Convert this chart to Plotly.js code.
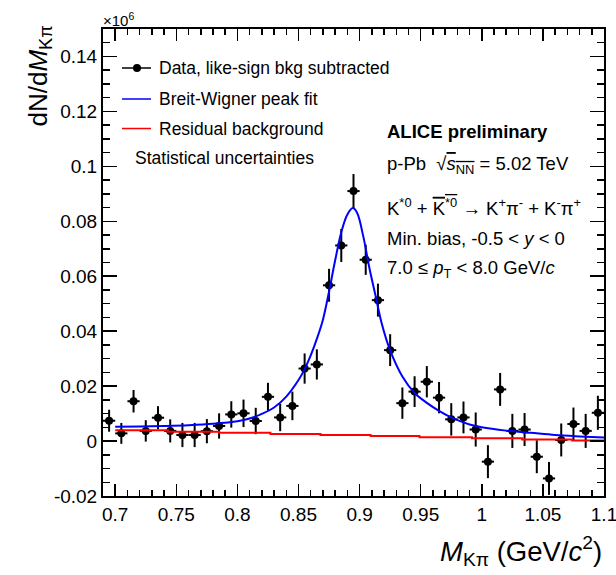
<!DOCTYPE html>
<html>
<head>
<meta charset="utf-8">
<script src="https://cdn.plot.ly/plotly-3.0.1.min.js"></script>
<style>html,body{margin:0;padding:0;background:#fff;}#chart{width:616px;height:575px;}</style>
</head>
<body>
<div id="chart"></div>
<script>
// ---- data ----
const massBins = [0.695,0.705,0.715,0.725,0.735,0.745,0.755,0.765,0.775,0.785,
                  0.795,0.805,0.815,0.825,0.835,0.845,0.855,0.865,0.875,0.885,
                  0.895,0.905,0.915,0.925,0.935,0.945,0.955,0.965,0.975,0.985,
                  0.995,1.005,1.015,1.025,1.035,1.045,1.055,1.065,1.075,1.085,1.095];
const counts = [0.0074,0.0028,0.0145,0.0037,0.0085,0.0037,0.0022,0.0022,0.0036,0.0055,
                0.0097,0.0101,0.0073,0.0161,0.0086,0.0128,0.0264,0.0279,0.0567,0.0712,
                0.0910,0.0660,0.0513,0.0331,0.0138,0.0180,0.0216,0.0158,0.0079,0.0086,
                0.0042,-0.0075,0.0188,0.0037,0.0042,-0.0057,-0.0136,0.0004,0.0062,0.0037,0.0103];
const statErr = [0.0040,0.0038,0.0041,0.0039,0.0042,0.0042,0.0044,0.0044,0.0044,0.0046,
                 0.0048,0.0050,0.0048,0.0051,0.0050,0.0052,0.0055,0.0055,0.0060,0.0060,
                 0.0062,0.0055,0.0060,0.0058,0.0057,0.0056,0.0057,0.0057,0.0059,0.0058,
                 0.0062,0.0060,0.0060,0.0062,0.0060,0.0060,0.0060,0.0060,0.0060,0.0062,0.0062];
const binHalfWidth = 0.005;

const fitMass = [0.700,0.720,0.740,0.760,0.780,0.800,0.810,0.820,0.830,0.840,
                 0.850,0.855,0.860,0.865,0.870,0.875,0.880,0.885,0.890,0.8945,
                 0.898,0.903,0.908,0.913,0.918,0.925,0.935,0.945,0.955,0.965,
                 0.975,0.990,1.000,1.020,1.040,1.060,1.080,1.100];
const fitValues = [0.0052,0.0053,0.0055,0.0058,0.0063,0.0072,0.0082,0.0099,0.0122,0.0162,
                   0.0222,0.0262,0.0312,0.0372,0.0442,0.0545,0.0658,0.0760,0.0825,0.0848,
                   0.0830,0.0745,0.0630,0.0530,0.0430,0.0330,0.0235,0.0175,0.0139,0.0110,
                   0.0086,0.0060,0.0050,0.0038,0.0030,0.0022,0.0017,0.0013];

const bkgMass = [0.700,0.743,0.785,0.827,0.868,0.909,0.949,0.992,1.033,1.074,1.100];
const bkgValues = [0.0039,0.0034,0.0030,0.0026,0.0022,0.0018,0.0014,0.0010,0.0006,0.0002,0.0002];

const xTickVals = [0.7,0.75,0.8,0.85,0.9,0.95,1.0,1.05,1.1];
const xTickText = ["0.7","0.75","0.8","0.85","0.9","0.95","1","1.05","1.1"];
const yTickVals = [-0.02,0,0.02,0.04,0.06,0.08,0.1,0.12,0.14];
const yTickText = ["-0.02","0","0.02","0.04","0.06","0.08","0.1","0.12","0.14"];

const legendLabels = ["Data, like-sign bkg subtracted","Breit-Wigner peak fit","Residual background","Statistical uncertainties"];
const infoLines = [
  "<b>ALICE preliminary</b>",
  "p-Pb\u00a0\u00a0\u221a<span style=\"text-decoration:overline\"><i>s</i><sub>NN</sub></span> = 5.02 TeV",
  "K<sup>*0</sup> + <span style=\"text-decoration:overline\">K<sup>*0</sup></span> \u2192 K<sup>+</sup>\u03c0<sup>-</sup> + K<sup>-</sup>\u03c0<sup>+</sup>",
  "Min. bias, -0.5 &lt; <i>y</i> &lt; 0",
  "7.0 \u2264 <i>p</i><sub>T</sub> &lt; 8.0 GeV/<i>c</i>"
];

// ---- layout helpers (pixel -> paper) ----
const W = 616, H = 575, L = 103, R = 12, T = 29, B = 79;
const PW = W - L - R, PH = H - T - B;
const px = v => (v - L) / PW;
const py = v => (H - B - v) / PH;
const FONT = "Liberation Sans, Arial, Helvetica, sans-serif";

const traces = [
  {
    x: massBins, y: counts, type: 'scatter', mode: 'markers',
    marker: {color: '#000', size: 8},
    error_y: {type: 'data', array: statErr, visible: true, color: '#000', thickness: 2, width: 0},
    error_x: {type: 'constant', value: binHalfWidth, visible: true, color: '#000', thickness: 2, width: 0},
    showlegend: false, cliponaxis: true
  },
  {
    x: fitMass, y: fitValues, type: 'scatter', mode: 'lines',
    line: {color: '#0000ff', width: 2, shape: 'spline', smoothing: 1},
    showlegend: false
  },
  {
    x: bkgMass, y: bkgValues, type: 'scatter', mode: 'lines',
    line: {color: '#ff0000', width: 2, shape: 'hv'},
    showlegend: false
  }
];

const legRows = [68, 99, 128.5];
const shapes = [
  {type: 'line', xref: 'paper', yref: 'paper', x0: px(122), x1: px(151), y0: py(legRows[0]), y1: py(legRows[0]), line: {color: '#000', width: 1.5}},
  {type: 'circle', xref: 'paper', yref: 'paper', x0: px(133), x1: px(141), y0: py(legRows[0]+4), y1: py(legRows[0]-4), fillcolor: '#000', line: {color: '#000', width: 0}},
  {type: 'line', xref: 'paper', yref: 'paper', x0: px(122), x1: px(151), y0: py(legRows[1]), y1: py(legRows[1]), line: {color: '#0000ff', width: 1.5}},
  {type: 'line', xref: 'paper', yref: 'paper', x0: px(122), x1: px(151), y0: py(legRows[2]), y1: py(legRows[2]), line: {color: '#ff0000', width: 1.5}}
];

const ann = [];
const legFont = {family: FONT, size: 17.5, color: '#000'};
ann.push({xref:'paper', yref:'paper', x: px(157), y: py(legRows[0]), xanchor:'left', yanchor:'middle', text: legendLabels[0], showarrow:false, font: legFont});
ann.push({xref:'paper', yref:'paper', x: px(157), y: py(legRows[1]), xanchor:'left', yanchor:'middle', text: legendLabels[1], showarrow:false, font: legFont});
ann.push({xref:'paper', yref:'paper', x: px(157), y: py(legRows[2]), xanchor:'left', yanchor:'middle', text: legendLabels[2], showarrow:false, font: legFont});
ann.push({xref:'paper', yref:'paper', x: px(133), y: py(158), xanchor:'left', yanchor:'middle', text: legendLabels[3], showarrow:false, font: legFont});

const infoY = [131, 165, 207, 238, 269];
infoLines.forEach((t, i) => {
  ann.push({xref:'paper', yref:'paper', x: px(385), y: py(infoY[i]), xanchor:'left', yanchor:'middle', text: t, showarrow:false,
            font: {family: FONT, size: 18.5, color: '#000'}});
});

// exponent label
ann.push({xref:'paper', yref:'paper', x: px(101), y: py(19), xanchor:'left', yanchor:'middle',
          text: '\u00d710<sup>6</sup>', showarrow:false, font: {family: FONT, size: 15, color:'#000'}});
// y-axis title (ROOT style, aligned to top)
ann.push({xref:'paper', yref:'paper', x: px(39), y: py(24), xanchor:'center', yanchor:'top', textangle: -90,
          text: 'dN/d<i>M</i><sub>K\u03c0</sub>', showarrow:false, font: {family: FONT, size: 26, color:'#000'}});
// x-axis title (ROOT style, aligned right)
ann.push({xref:'paper', yref:'paper', x: px(604), y: py(551), xanchor:'right', yanchor:'middle',
          text: '<i>M</i><sub>K\u03c0</sub> (GeV/<i>c</i><sup>2</sup>)', showarrow:false, font: {family: FONT, size: 27.5, color:'#000'}});

const axisCommon = {
  showgrid: false, zeroline: false, showline: true, linecolor: '#000', linewidth: 2,
  mirror: 'ticks', ticks: 'inside', tickcolor: '#000', tickwidth: 1.5,
  tickfont: {family: FONT, size: 19, color: '#000'}, tickmode: 'array',
  ticklabeloverflow: 'allow'
};

const layout = {
  width: W, height: H,
  margin: {l: L, r: R, t: T, b: B, pad: 0},
  paper_bgcolor: '#fff', plot_bgcolor: '#fff',
  showlegend: false,
  font: {family: FONT, color: '#000'},
  xaxis: Object.assign({}, axisCommon, {
    range: [0.69, 1.1], tickvals: xTickVals, ticktext: xTickText, ticklen: 12,
    minor: {dtick: 0.01, tick0: 0.7, ticks: 'inside', ticklen: 6, tickcolor: '#000', tickwidth: 1.5}
  }),
  yaxis: Object.assign({}, axisCommon, {
    range: [-0.02, 0.15], tickvals: yTickVals, ticktext: yTickText, ticklen: 14,
    minor: {dtick: 0.005, tick0: 0, ticks: 'inside', ticklen: 7, tickcolor: '#000', tickwidth: 1.5}
  }),
  shapes: shapes,
  annotations: ann
};

Plotly.newPlot('chart', traces, layout, {staticPlot: true, displayModeBar: false});
</script>
</body>
</html>
